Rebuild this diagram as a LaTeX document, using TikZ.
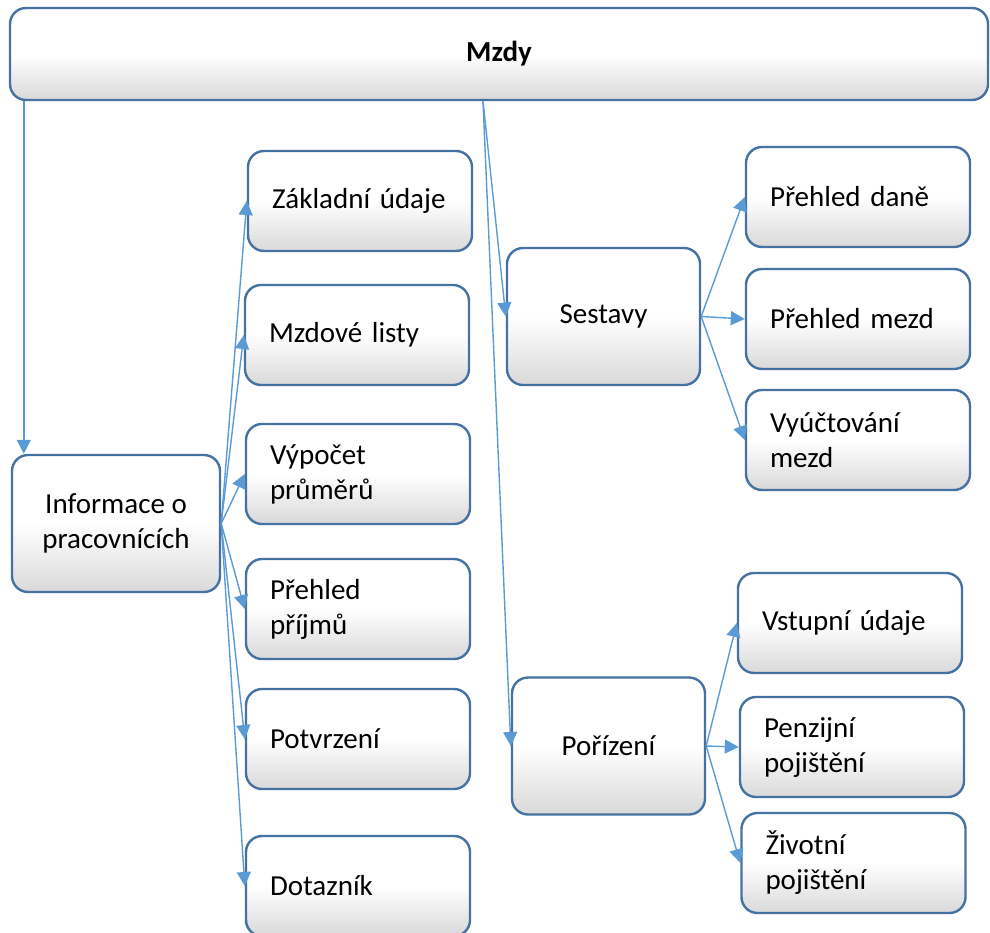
\documentclass[tikz,border=0pt]{standalone}
\usepackage{fontspec}
\setmainfont{Carlito}
\usepackage{xcolor}
\usepackage{tikz}
\usetikzlibrary{arrows.meta}
\definecolor{boxline}{RGB}{70,114,162}
\definecolor{linkline}{RGB}{91,155,213}
\newlength{\Round}
\setlength\Round{16pt}

\begin{document}
\begin{tikzpicture}[
    x = 1pt, y = -1pt,
    font = \fontsize{29pt}{35pt}\selectfont,
    box/.style = {
      rectangle, draw = boxline, line width = 2.4pt, rounded corners = \Round,
      top color = white, bottom color = black!15, middle color = white,
      inner sep = 0pt
    },
    head/.style = {
      box, minimum width = 978pt, minimum height = 92pt, font = \fontsize{29pt}{35pt}\selectfont\bfseries
    },
    group/.style = {
      box, align = center, minimum width = 193pt, minimum height = 137pt
    },
    item/.style = {
      box, align = left, text width = 176pt, minimum width = 224pt, minimum height = 100pt
    },
    link/.style = {
      draw = linkline, line width = 1.4pt, -{Triangle[length = 14pt, width = 14pt]}
    },
    ]
\useasboundingbox (0,0) rectangle (990,932);

\node  [head]  (mzdy)  at (499,54)  {Mzdy};

\node  [group, minimum width = 208pt]  (info)  at (116,523.5)  {Informace o\\pracovnících};
\node  [group]  (sestavy)  at (603.5,316.5)  {Sestavy};
\node  [group]  (porizeni)  at (608.5,746)  {Pořízení};

\node  [item]  (zakladni)  at (360,201)  {Základní údaje};
\node  [item]  (mzdove)  at (357,335)  {Mzdové listy};
\node  [item]  (vypocet)  at (358,474)  {Výpočet\\průměrů};
\node  [item]  (prijmy)  at (358,609)  {Přehled\\příjmů};
\node  [item]  (potvrzeni)  at (358,739)  {Potvrzení};
\node  [item]  (dotaznik)  at (358,886)  {Dotazník};

\node  [item]  (dane)  at (858,197)  {Přehled daně};
\node  [item]  (mezd)  at (858,319)  {Přehled mezd};
\node  [item]  (vyuctovani)  at (858,440)  {Vyúčtování\\mezd};

\node  [item]  (vstupni)  at (850,623)  {Vstupní údaje};
\node  [item]  (penzijni)  at (852,747)  {Penzijní\\pojištění};
\node  [item]  (zivotni)  at (853.5,863)  {Životní\\pojištění};

\draw  [link]  ([xshift = 15pt]mzdy.south west)  --  ([xshift = 13pt]info.north west);
\draw  [link]  ([xshift = -16pt]mzdy.south)  --  (sestavy.west);
\draw  [link]  ([xshift = -16pt]mzdy.south)  --  (porizeni.west);

\draw  [link]  (info.east)  --  (zakladni.west);
\draw  [link]  (info.east)  --  (mzdove.west);
\draw  [link]  (info.east)  --  (vypocet.west);
\draw  [link]  (info.east)  --  (prijmy.west);
\draw  [link]  (info.east)  --  (potvrzeni.west);
\draw  [link]  (info.east)  --  (dotaznik.west);

\draw  [link]  (sestavy.east)  --  (dane.west);
\draw  [link]  (sestavy.east)  --  (mezd.west);
\draw  [link]  (sestavy.east)  --  (vyuctovani.west);

\draw  [link]  (porizeni.east)  --  (vstupni.west);
\draw  [link]  (porizeni.east)  --  (penzijni.west);
\draw  [link]  (porizeni.east)  --  (zivotni.west);

\end{tikzpicture}
\end{document}
